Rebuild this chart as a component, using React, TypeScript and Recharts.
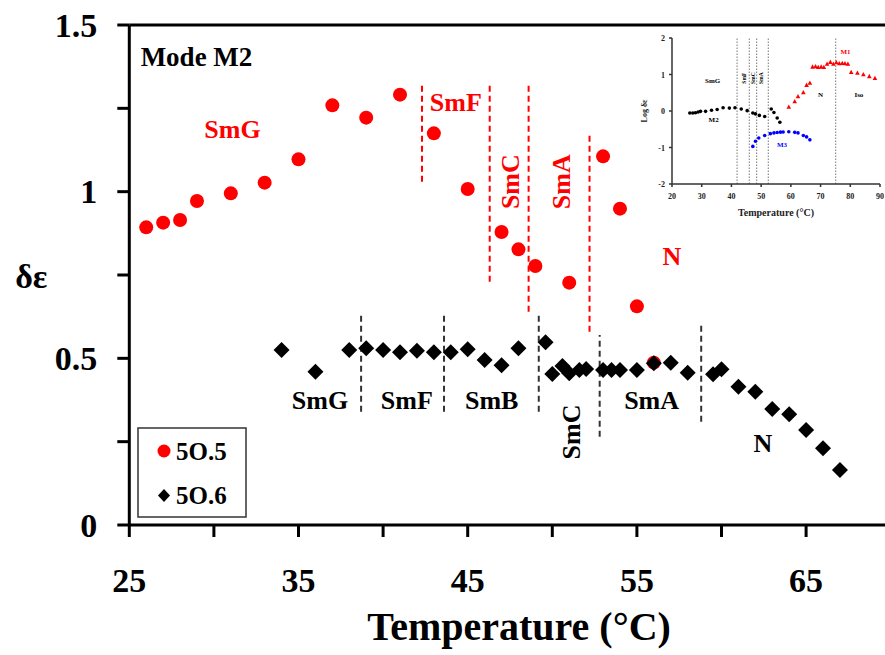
import React from "react";
import { ScatterChart, Scatter, XAxis, YAxis, ReferenceLine } from "recharts";

const serif = '"Liberation Serif", "Times New Roman", serif';

// 5O.5 (red circles)
const tempO5 = [26, 27, 28, 29, 31, 33, 35, 37, 39, 41, 43, 45, 47, 48, 49, 51, 53, 54, 55, 56];
const deltaO5 = [0.893, 0.907, 0.915, 0.972, 0.995, 1.027, 1.097, 1.259, 1.222, 1.291, 1.175, 1.008, 0.879, 0.827, 0.777, 0.727, 1.106, 0.949, 0.656, 0.487];

// 5O.6 (black diamonds)
const tempO6 = [34, 36, 38, 39, 40, 41, 42, 43, 44, 45, 46, 47, 48, 49.6, 50, 50.6, 51, 51.6, 52, 53, 53.5, 54, 55, 56, 57, 58, 59.5, 60, 61, 62, 63, 64, 65, 66, 67];
const deltaO6 = [0.525, 0.46, 0.525, 0.53, 0.525, 0.518, 0.523, 0.518, 0.518, 0.527, 0.495, 0.479, 0.53, 0.548, 0.453, 0.477, 0.455, 0.465, 0.468, 0.465, 0.465, 0.465, 0.465, 0.485, 0.487, 0.457, 0.452, 0.467, 0.415, 0.4, 0.348, 0.332, 0.285, 0.23, 0.165];

const xTicks = [25, 30, 35, 40, 45, 50, 55, 60, 65];
const xLabelled = [25, 35, 45, 55, 65];
const yTicks = [0, 0.25, 0.5, 0.75, 1, 1.25, 1.5];
const yLabelled = [0, 0.5, 1, 1.5];

// phase boundaries (dashed)
const redBoundX = [42.3, 46.3, 48.6, 52.2];
const redBoundTop = [1.33, 1.33, 1.33, 1.18];
const redBoundBottom = [1.03, 0.73, 0.64, 0.58];
const blackBoundX = [38.7, 43.6, 49.2, 52.8, 58.8];
const blackBoundTop = [0.64, 0.64, 0.64, 0.57, 0.61];
const blackBoundBottom = [0.34, 0.34, 0.34, 0.265, 0.31];

// phase names
const redPhases = ["SmG", "SmF", "SmC", "SmA", "N"];
const redPhaseX = [31.1, 44.3, 47.55, 50.55, 57.07];
const redPhaseY = [1.188, 1.268, 1.03, 1.03, 0.807];
const redPhaseRot = [0, 0, -90, -90, 0];
const blackPhases = ["SmG", "SmF", "SmB", "SmC", "SmA", "N"];
const blackPhaseX = [36.27, 41.4, 46.42, 51.15, 55.87, 62.45];
const blackPhaseY = [0.375, 0.375, 0.375, 0.279, 0.375, 0.246];
const blackPhaseRot = [0, 0, 0, -90, 0, 0];

// inset: log δε vs temperature, three modes
const insetM2T = [26, 27, 27.9, 28.8, 29.6, 31.3, 33.3, 35.2, 37.2, 39.3, 41.2, 43.3, 45.3, 47.2, 48.1, 49.4, 51.2, 53.4, 54.3, 55.4, 56.3];
const insetM2V = [-0.055, -0.055, -0.046, -0.027, -0.01, -0.01, 0.02, 0.04, 0.09, 0.08, 0.09, 0.055, 0.01, -0.055, -0.08, -0.12, -0.15, 0.055, -0.04, -0.19, -0.31];
const insetM3T = [47.2, 48.1, 49.2, 51.2, 53.1, 54.3, 55.4, 56.5, 57.4, 59.3, 61.3, 62.4, 64.2, 65.3, 66.4];
const insetM3V = [-0.97, -0.83, -0.74, -0.67, -0.62, -0.6, -0.59, -0.58, -0.575, -0.57, -0.585, -0.6, -0.67, -0.71, -0.79];
const insetM1T = [59.3, 61.3, 62.4, 64.2, 65.3, 66.4, 67.3, 68.3, 69.2, 70.2, 71.1, 72.2, 73.3, 74.3, 75.3, 76.3, 77.3, 78.2, 79.2, 80.3, 82.4, 84.4, 86.4, 88.3];
const insetM1V = [0.11, 0.26, 0.4, 0.51, 0.71, 0.77, 1.21, 1.22, 1.2, 1.21, 1.2, 1.29, 1.34, 1.29, 1.33, 1.3, 1.31, 1.3, 1.29, 1.06, 1.04, 1.0, 0.95, 0.9];
const insetBoundX = [41.9, 46.0, 48.5, 52.4, 75.1];
const insetXTicks = [20, 30, 40, 50, 60, 70, 80, 90];
const insetYTicks = [-2, -1, 0, 1, 2];
const insetNotes = ["SmG", "M1", "N", "Iso", "M2", "M3"];
const insetNoteX = [33.7, 78.4, 70, 82.9, 34, 57];
const insetNoteY = [0.83, 1.62, 0.45, 0.45, -0.24, -0.92];
const insetNoteColor = ["#000", "#ff0000", "#000", "#000", "#000", "#0000ff"];
const insetSmall = ["SmF", "SmC", "SmA"];
const insetSmallX = [44.2, 47.2, 50.1];

const zip = (xs: number[], ys: number[]) => xs.map((x, i) => ({ x, y: ys[i] }));

const o5Data = zip(tempO5, deltaO5);
const o6Data = zip(tempO6, deltaO6);

const notes = [
  ...redPhases.map((t, i) => ({ x: redPhaseX[i], y: redPhaseY[i], text: t, rot: redPhaseRot[i], color: "#ff0000", size: 26, anchor: "middle" })),
  ...blackPhases.map((t, i) => ({ x: blackPhaseX[i], y: blackPhaseY[i], text: t, rot: blackPhaseRot[i], color: "#000", size: 26, anchor: "middle" })),
  { x: 25.67, y: 1.404, text: "Mode M2", rot: 0, color: "#000", size: 27, anchor: "start" },
];

const insetNoteData = [
  ...insetNotes.map((t, i) => ({ x: insetNoteX[i], y: insetNoteY[i], text: t, rot: 0, color: insetNoteColor[i], size: 7, anchor: "middle" })),
  ...insetSmall.map((t, i) => ({ x: insetSmallX[i], y: 0.9, text: t, rot: -90, color: "#000", size: 5.5, anchor: "middle" })),
];

function NoteShape(props: any) {
  const { cx, cy, payload } = props;
  if (cx == null || cy == null) return null;
  return (
    <text
      x={cx}
      y={cy}
      textAnchor={payload.anchor}
      dominantBaseline="central"
      transform={payload.rot ? `rotate(${payload.rot} ${cx} ${cy})` : undefined}
      fontFamily={serif}
      fontWeight="bold"
      fontSize={payload.size}
      fill={payload.color}
    >
      {payload.text}
    </text>
  );
}

function RedDot({ cx, cy }: any) {
  if (cx == null || cy == null) return null;
  return <circle cx={cx} cy={cy} r={7} fill="#ff0000" />;
}

function Diamond({ cx, cy }: any) {
  if (cx == null || cy == null) return null;
  const s = 8;
  return <polygon points={`${cx},${cy - s} ${cx + s},${cy} ${cx},${cy + s} ${cx - s},${cy}`} fill="#000" />;
}

function BottomTick({ x, y, payload }: any) {
  if (!xLabelled.includes(payload.value)) return null;
  return (
    <text x={x} y={y + 55} textAnchor="middle" fontFamily={serif} fontWeight="bold" fontSize={34} fill="#000">
      {payload.value}
    </text>
  );
}

function LeftTick({ x, y, payload }: any) {
  if (!yLabelled.includes(payload.value)) return null;
  return (
    <text x={x - 20} y={y + 11.5} textAnchor="end" fontFamily={serif} fontWeight="bold" fontSize={34} fill="#000">
      {payload.value}
    </text>
  );
}

function InsetBottomTick({ x, y, payload }: any) {
  return (
    <text x={x} y={y + 12} textAnchor="middle" fontFamily={serif} fontWeight="bold" fontSize={8} fill="#222">
      {payload.value}
    </text>
  );
}

function InsetLeftTick({ x, y, payload }: any) {
  return (
    <text x={x - 4} y={y + 3} textAnchor="end" fontFamily={serif} fontWeight="bold" fontSize={8} fill="#222">
      {payload.value}
    </text>
  );
}

function Inset() {
  const m2 = zip(insetM2T, insetM2V);
  const m3 = zip(insetM3T, insetM3V);
  const m1 = zip(insetM1T, insetM1V);
  return (
    <div style={{ position: "absolute", left: 620, top: 30 }}>
      <ScatterChart width={265} height={195} margin={{ top: 8, right: 5, left: 22, bottom: 0 }}>
        <XAxis
          type="number"
          dataKey="x"
          domain={[20, 90]}
          ticks={insetXTicks}
          interval={0}
          tickSize={3}
          tickMargin={0}
          height={41}
          stroke="#333"
          strokeWidth={1.5}
          tick={<InsetBottomTick />}
          label={(p: any) => (
            <text
              x={p.viewBox.x + p.viewBox.width / 2}
              y={p.viewBox.y + 32}
              textAnchor="middle"
              fontFamily={serif}
              fontWeight="bold"
              fontSize={10}
              fill="#222"
            >
              Temperature (°C)
            </text>
          )}
        />
        <YAxis
          type="number"
          dataKey="y"
          domain={[-2, 2]}
          ticks={insetYTicks}
          interval={0}
          tickSize={3}
          tickMargin={0}
          width={30}
          stroke="#333"
          strokeWidth={1.5}
          tick={<InsetLeftTick />}
          label={(p: any) => {
            const cx = p.viewBox.x + 2;
            const cy = p.viewBox.y + p.viewBox.height / 2;
            return (
              <text
                x={cx}
                y={cy}
                textAnchor="middle"
                dominantBaseline="central"
                transform={`rotate(-90 ${cx} ${cy})`}
                fontFamily={serif}
                fontWeight="bold"
                fontSize={8}
                fill="#222"
              >
                Log δε
              </text>
            );
          }}
        />
        {insetBoundX.map((x) => (
          <ReferenceLine key={x} x={x} stroke="#777" strokeWidth={1} strokeDasharray="1.5 1.5" />
        ))}
        <Scatter
          data={m2}
          isAnimationActive={false}
          shape={({ cx, cy }: any) => <circle cx={cx} cy={cy} r={1.8} fill="#000" />}
        />
        <Scatter
          data={m3}
          isAnimationActive={false}
          shape={({ cx, cy }: any) => <circle cx={cx} cy={cy} r={1.8} fill="#0000ff" />}
        />
        <Scatter
          data={m1}
          isAnimationActive={false}
          shape={({ cx, cy }: any) => (
            <polygon points={`${cx},${cy - 2.5} ${cx + 2.3},${cy + 1.8} ${cx - 2.3},${cy + 1.8}`} fill="#ff0000" />
          )}
        />
        <Scatter data={insetNoteData} isAnimationActive={false} shape={<NoteShape />} />
      </ScatterChart>
    </div>
  );
}

function LegendBox() {
  return (
    <svg width={110} height={91} style={{ position: "absolute", left: 137, top: 427 }}>
      <rect x={1} y={1} width={108} height={89} fill="#fff" stroke="#333" strokeWidth={1.5} />
      <circle cx={27} cy={24} r={6.5} fill="#ff0000" />
      <text x={39} y={33} fontFamily={serif} fontWeight="bold" fontSize={25} fill="#000">
        5O.5
      </text>
      <polygon points="27,62 33,68.5 27,75 21,68.5" fill="#000" />
      <text x={39} y={77} fontFamily={serif} fontWeight="bold" fontSize={25} fill="#000">
        5O.6
      </text>
    </svg>
  );
}

export default function App() {
  return (
    <div
      style={{
        position: "fixed",
        left: 0,
        top: 0,
        width: 885,
        height: 655,
        overflow: "hidden",
        background: "#fff",
      }}
    >
      <ScatterChart width={900} height={655} margin={{ top: 25, right: 9.3, left: 29.3, bottom: 0 }}>
        <XAxis
          type="number"
          dataKey="x"
          domain={[25, 70]}
          ticks={xTicks}
          interval={0}
          tickSize={12}
          tickMargin={0}
          height={130}
          stroke="#000"
          strokeWidth={3}
          tick={<BottomTick />}
          label={(p: any) => (
            <text
              x={p.viewBox.x + p.viewBox.width / 2 + 9}
              y={p.viewBox.y + 115}
              textAnchor="middle"
              fontFamily={serif}
              fontWeight="bold"
              fontSize={40}
              fill="#000"
            >
              Temperature (°C)
            </text>
          )}
        />
        <YAxis
          type="number"
          dataKey="y"
          domain={[0, 1.5]}
          ticks={yTicks}
          interval={0}
          tickSize={12}
          tickMargin={0}
          width={100}
          stroke="#000"
          strokeWidth={3}
          tick={<LeftTick />}
          label={(p: any) => (
            <text
              x={p.viewBox.x + 2}
              y={p.viewBox.y + 263}
              textAnchor="middle"
              fontFamily={serif}
              fontWeight="bold"
              fontSize={34}
              fill="#000"
            >
              δε
            </text>
          )}
        />
        <ReferenceLine y={1.5} stroke="#000" strokeWidth={3} />
        {redBoundX.map((x, i) => (
          <ReferenceLine
            key={"r" + i}
            segment={[
              { x, y: redBoundBottom[i] },
              { x, y: redBoundTop[i] },
            ]}
            stroke="#ff0000"
            strokeWidth={2}
            strokeDasharray="6 4"
          />
        ))}
        {blackBoundX.map((x, i) => (
          <ReferenceLine
            key={"b" + i}
            segment={[
              { x, y: blackBoundBottom[i] },
              { x, y: blackBoundTop[i] },
            ]}
            stroke="#333"
            strokeWidth={2}
            strokeDasharray="6 4"
          />
        ))}
        <Scatter name="5O.5" data={o5Data} isAnimationActive={false} shape={<RedDot />} />
        <Scatter name="5O.6" data={o6Data} isAnimationActive={false} shape={<Diamond />} />
        <Scatter data={notes} isAnimationActive={false} shape={<NoteShape />} />
      </ScatterChart>
      <Inset />
      <LegendBox />
    </div>
  );
}
